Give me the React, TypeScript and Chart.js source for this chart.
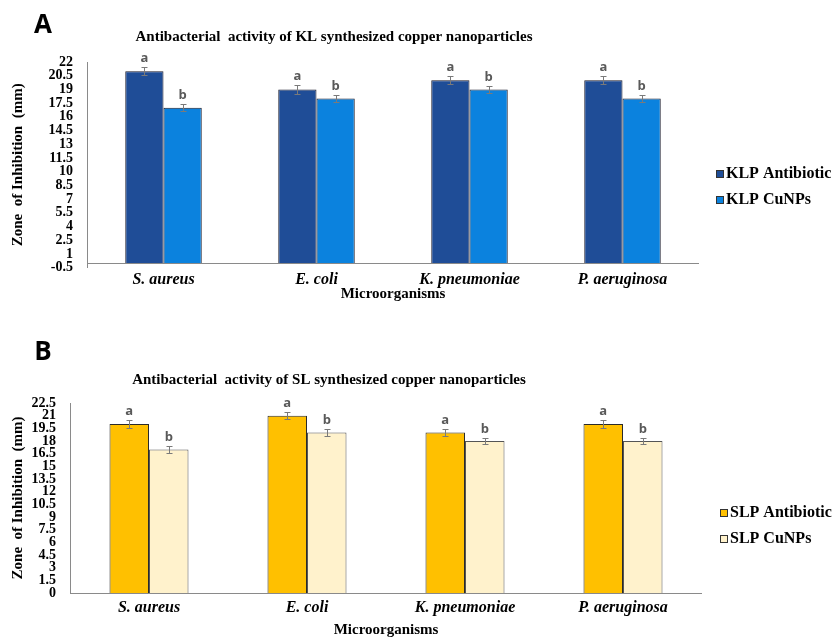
import { useEffect, useRef } from 'react';
import { Chart, registerables } from 'chart.js';

Chart.register(...registerables);

// ---- data ----
const ORGANISMS = ['S. aureus', 'E. coli', 'K. pneumoniae', 'P. aeruginosa'];

// Panel A: KL synthesized copper nanoparticles (zone of inhibition, mm)
const KL_ANTIBIOTIC = [21, 19, 20, 20];
const KL_ANTIBIOTIC_SD = [0.45, 0.45, 0.45, 0.45];
const KL_CUNPS = [17, 18, 19, 18];
const KL_CUNPS_SD = [0.4, 0.35, 0.4, 0.35];
const KL_TICKS = [-0.5, 1, 2.5, 4, 5.5, 7, 8.5, 10, 11.5, 13, 14.5, 16, 17.5, 19, 20.5, 22];

// Panel B: SL synthesized copper nanoparticles (zone of inhibition, mm)
const SL_ANTIBIOTIC = [20, 21, 19, 20];
const SL_ANTIBIOTIC_SD = [0.45, 0.45, 0.45, 0.45];
const SL_CUNPS = [17, 19, 18, 18];
const SL_CUNPS_SD = [0.4, 0.4, 0.4, 0.4];
const SL_TICKS = [0, 1.5, 3, 4.5, 6, 7.5, 9, 10.5, 12, 13.5, 15, 16.5, 18, 19.5, 21, 22.5];

// significance groups shown above the bars
const ANTIBIOTIC_GROUPS = ['a', 'a', 'a', 'a'];
const CUNPS_GROUPS = ['b', 'b', 'b', 'b'];

// ---- styling ----
const SERIF = '"Liberation Serif", "Times New Roman", serif';
const SANS = '"Open Sans", "Liberation Sans", sans-serif';
const AXIS_COLOR = '#8a8a8a';
const WIDTH = 835;

type Series = {
  label: string;
  values: number[];
  sd: number[];
  groups: string[];
  fill: string;
  border: string;
};

type Panel = {
  letter: string;
  title: string;
  series: Series[];
  ticks: number[];
  height: number;
  area: { left: number; right: number; top: number; bottom: number };
  titleAt: [number, number];
  letterAt: [number, number];
  legendX: number;
  legendRows: number[];
  xTickPad: number;
  xTitlePad: number;
};

const PANELS: Panel[] = [
  {
    letter: 'A',
    title: 'Antibacterial  activity of KL synthesized copper nanoparticles',
    series: [
      { label: 'KLP Antibiotic', values: KL_ANTIBIOTIC, sd: KL_ANTIBIOTIC_SD, groups: ANTIBIOTIC_GROUPS, fill: '#1f4d97', border: '#1a1a2a' },
      { label: 'KLP CuNPs', values: KL_CUNPS, sd: KL_CUNPS_SD, groups: CUNPS_GROUPS, fill: '#0b82de', border: '#1a1a2a' },
    ],
    ticks: KL_TICKS,
    height: 320,
    area: { left: 87, right: 699, top: 62, bottom: 267.6 },
    titleAt: [334, 37],
    letterAt: [43, 26],
    legendX: 716,
    legendRows: [174, 200],
    xTickPad: 3,
    xTitlePad: 17,
  },
  {
    letter: 'B',
    title: 'Antibacterial  activity of SL synthesized copper nanoparticles',
    series: [
      { label: 'SLP Antibiotic', values: SL_ANTIBIOTIC, sd: SL_ANTIBIOTIC_SD, groups: ANTIBIOTIC_GROUPS, fill: '#ffc000', border: '#2a2a2a' },
      { label: 'SLP CuNPs', values: SL_CUNPS, sd: SL_CUNPS_SD, groups: CUNPS_GROUPS, fill: '#fff2cc', border: '#555555' },
    ],
    ticks: SL_TICKS,
    height: 319,
    area: { left: 70, right: 702, top: 83, bottom: 273 },
    titleAt: [329, 60],
    letterAt: [43, 33],
    legendX: 720,
    legendRows: [193, 219],
    xTickPad: 5.5,
    xTitlePad: 0,
  },
];

function ChartPanel({ panel }: { panel: Panel }) {
  const ref = useRef<HTMLCanvasElement | null>(null);

  useEffect(() => {
    const canvas = ref.current;
    if (!canvas) return;
    const p = panel;
    const a = p.area;

    // zero line, error bars, group letters, heading and legend
    const decor = {
      id: 'decor',
      afterDatasetsDraw(chart: any) {
        const { ctx, chartArea } = chart;
        const y = chart.scales.y;
        ctx.save();

        const y0 = Math.round(y.getPixelForValue(0)) + 0.5;
        ctx.strokeStyle = AXIS_COLOR;
        ctx.lineWidth = 1;
        ctx.beginPath();
        ctx.moveTo(chartArea.left, y0);
        ctx.lineTo(chartArea.right, y0);
        ctx.stroke();

        p.series.forEach((s, i) => {
          const meta = chart.getDatasetMeta(i);
          meta.data.forEach((bar: any, j: number) => {
            const x = Math.round(bar.x) + 0.5;
            const hi = Math.round(y.getPixelForValue(s.values[j] + s.sd[j])) + 0.5;
            const lo = Math.round(y.getPixelForValue(s.values[j] - s.sd[j])) + 0.5;
            ctx.strokeStyle = '#7a7a7a';
            ctx.lineWidth = 1;
            ctx.beginPath();
            ctx.moveTo(x, lo);
            ctx.lineTo(x, hi);
            ctx.moveTo(x - 3, hi);
            ctx.lineTo(x + 3, hi);
            ctx.moveTo(x - 3, lo);
            ctx.lineTo(x + 3, lo);
            ctx.stroke();

            ctx.fillStyle = '#595959';
            ctx.font = `bold 13px ${SANS}`;
            ctx.textAlign = 'center';
            ctx.textBaseline = 'alphabetic';
            ctx.fillText(s.groups[j], bar.x, hi - 6);
          });
        });

        // panel letter
        ctx.fillStyle = '#000';
        ctx.font = `bold 26px ${SANS}`;
        ctx.textAlign = 'center';
        ctx.textBaseline = 'middle';
        ctx.fillText(p.letter, p.letterAt[0], p.letterAt[1]);

        // chart heading
        ctx.font = `bold 15px ${SERIF}`;
        ctx.fillText(p.title, p.titleAt[0], p.titleAt[1]);

        // legend
        ctx.font = `bold 16px ${SERIF}`;
        ctx.textAlign = 'left';
        p.series.forEach((s, i) => {
          const cy = p.legendRows[i];
          ctx.fillStyle = s.fill;
          ctx.fillRect(p.legendX, cy - 4, 8, 8);
          ctx.strokeStyle = '#333';
          ctx.strokeRect(p.legendX + 0.5, cy - 3.5, 7, 7);
          ctx.fillStyle = '#000';
          ctx.fillText(s.label, p.legendX + 10, cy);
        });

        ctx.restore();
      },
    };

    const chart = new Chart(canvas, {
      type: 'bar',
      data: {
        labels: ORGANISMS,
        datasets: p.series.map((s) => ({
          label: s.label,
          data: s.values,
          backgroundColor: s.fill,
          borderColor: s.border,
          borderWidth: 1,
          categoryPercentage: 0.5,
          barPercentage: 1.0,
        })),
      },
      options: {
        responsive: false,
        maintainAspectRatio: false,
        animation: false,
        layout: { padding: { left: 0, top: a.top, right: WIDTH - a.right, bottom: 0 } },
        plugins: {
          legend: { display: false },
          title: { display: false },
          tooltip: { enabled: false },
        },
        scales: {
          x: {
            grid: { display: false, drawTicks: false },
            border: { display: false },
            ticks: {
              autoSkip: false,
              maxRotation: 0,
              padding: p.xTickPad,
              color: '#000',
              font: { family: SERIF, size: 16, weight: 'bold', style: 'italic' },
            },
            title: {
              display: true,
              text: 'Microorganisms',
              color: '#000',
              font: { family: SERIF, size: 15, weight: 'bold' },
              padding: { top: 0, bottom: p.xTitlePad },
            },
            afterFit: (s: any) => {
              s.height = p.height - a.bottom;
            },
          },
          y: {
            min: p.ticks[0],
            max: p.ticks[p.ticks.length - 1],
            afterBuildTicks: (s: any) => {
              s.ticks = p.ticks.map((v) => ({ value: v }));
            },
            afterFit: (s: any) => {
              s.width = a.left;
            },
            grid: { display: false, drawTicks: false },
            border: { display: true, color: AXIS_COLOR, width: 1 },
            ticks: {
              autoSkip: false,
              padding: 14,
              color: '#000',
              font: { family: SERIF, size: 14, weight: 'bold' },
              callback: (v: any) => String(v),
            },
            title: {
              display: true,
              text: 'Zone  of Inhibition  (mm)',
              color: '#000',
              font: { family: SERIF, size: 15, weight: 'bold' },
              padding: { top: 9, bottom: 0 },
            },
          },
        },
      },
      plugins: [decor],
    } as any);

    return () => chart.destroy();
  }, [panel]);

  return <canvas ref={ref} width={WIDTH} height={panel.height} style={{ display: 'block' }} />;
}

export default function App() {
  return (
    <div style={{ position: 'absolute', left: 0, top: 0, width: WIDTH, height: 639, background: '#fff' }}>
      {PANELS.map((p) => (
        <ChartPanel key={p.letter} panel={p} />
      ))}
    </div>
  );
}
